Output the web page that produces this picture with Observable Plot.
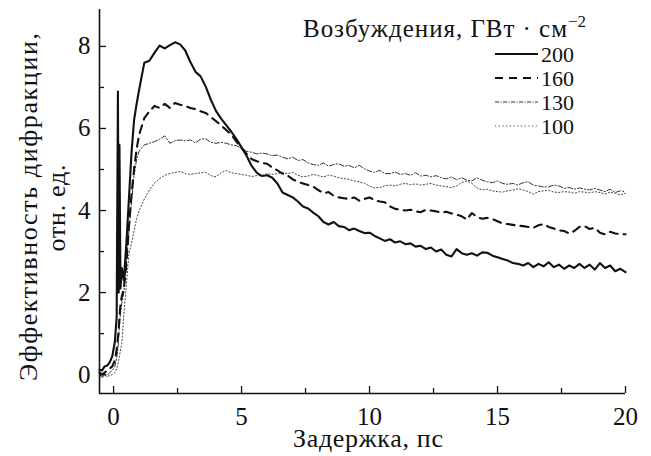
<!DOCTYPE html>
<html><head><meta charset="utf-8">
<script src="https://cdn.jsdelivr.net/npm/d3@7"></script>
<script src="https://cdn.jsdelivr.net/npm/@observablehq/plot@0.6"></script>
<style>body{margin:0;background:#fff}#chart svg{display:block}</style>
</head><body><div id="chart"></div>
<script>
// Delay, ps
const delay = [
  -0.55, -0.45, -0.35, -0.25, -0.15, -0.05, 0.05, 0.12, 0.17, 0.2,
  0.23, 0.27, 0.32, 0.4, 0.5, 0.6, 0.7, 0.8, 0.9, 1.0,
  1.2, 1.4, 1.6, 1.8, 2.0, 2.2, 2.4, 2.6, 2.8, 3.0,
  3.2, 3.4, 3.6, 3.8, 4.0, 4.2, 4.4, 4.6, 4.8, 5.0,
  5.2, 5.4, 5.6, 5.8, 6.0, 6.2, 6.4, 6.6, 6.8, 7.0,
  7.2, 7.4, 7.6, 7.8, 8.0, 8.2, 8.4, 8.6, 8.8, 9.0,
  9.2, 9.4, 9.6, 9.8, 10.0, 10.2, 10.4, 10.6, 10.8, 11.0,
  11.2, 11.4, 11.6, 11.8, 12.0, 12.2, 12.4, 12.6, 12.8, 13.0,
  13.2, 13.4, 13.6, 13.8, 14.0, 14.2, 14.4, 14.6, 14.8, 15.0,
  15.2, 15.4, 15.6, 15.8, 16.0, 16.2, 16.4, 16.6, 16.8, 17.0,
  17.2, 17.4, 17.6, 17.8, 18.0, 18.2, 18.4, 18.6, 18.8, 19.0,
  19.2, 19.4, 19.6, 19.8, 20.0
];
const eff200 = [
  0.12, 0.10, 0.20, 0.22, 0.30, 0.45, 0.80, 1.40, 6.90, 2.00,
  5.60, 2.10, 2.60, 2.30, 3.20, 4.30, 5.40, 6.20, 6.60, 6.95,
  7.60, 7.65, 7.85, 8.02, 7.95, 8.03, 8.10, 8.05, 7.90, 7.62,
  7.38, 7.27, 7.02, 6.70, 6.43, 6.24, 6.08, 5.92, 5.74, 5.54,
  5.33, 5.08, 4.92, 4.84, 4.86, 4.80, 4.66, 4.44, 4.38, 4.32,
  4.22, 4.10, 4.05, 3.95, 3.86, 3.72, 3.66, 3.72, 3.62, 3.60,
  3.52, 3.56, 3.50, 3.45, 3.46, 3.38, 3.32, 3.26, 3.30, 3.22,
  3.25, 3.18, 3.20, 3.12, 3.14, 3.06, 3.10, 3.00, 3.05, 2.92,
  2.88, 3.06, 2.96, 2.92, 2.96, 2.90, 2.98, 2.97, 2.90, 2.86,
  2.82, 2.78, 2.72, 2.70, 2.66, 2.72, 2.62, 2.70, 2.64, 2.74,
  2.62, 2.68, 2.58, 2.66, 2.60, 2.70, 2.60, 2.68, 2.56, 2.72,
  2.60, 2.66, 2.52, 2.58, 2.50
];
const eff160 = [
  0.05, 0.00, 0.05, 0.10, 0.15, 0.20, 0.35, 0.60, 0.90, 1.10,
  1.40, 1.70, 1.90, 2.10, 2.70, 3.60, 4.40, 5.00, 5.50, 5.85,
  6.25, 6.42, 6.55, 6.50, 6.60, 6.50, 6.62, 6.58, 6.55, 6.50,
  6.47, 6.42, 6.38, 6.28, 6.18, 6.08, 5.96, 5.85, 5.68, 5.52,
  5.38, 5.25, 5.20, 5.16, 5.14, 5.05, 4.98, 4.90, 4.85, 4.76,
  4.70, 4.66, 4.62, 4.58, 4.50, 4.42, 4.45, 4.36, 4.32, 4.30,
  4.28, 4.32, 4.24, 4.28, 4.32, 4.25, 4.22, 4.20, 4.10, 4.04,
  4.02, 4.00, 4.02, 3.98, 3.96, 4.02, 4.00, 3.98, 3.95, 3.97,
  3.93, 3.90, 3.86, 3.78, 3.94, 3.84, 3.80, 3.82, 3.79, 3.74,
  3.68, 3.67, 3.65, 3.63, 3.62, 3.60, 3.58, 3.64, 3.67, 3.60,
  3.56, 3.52, 3.50, 3.44, 3.50, 3.60, 3.62, 3.55, 3.58, 3.46,
  3.42, 3.48, 3.44, 3.43, 3.42
];
const eff130 = [
  0.00, -0.05, 0.00, -0.02, 0.05, 0.10, 0.20, 0.40, 0.65, 0.90,
  1.20, 1.50, 1.75, 2.00, 2.70, 3.50, 4.20, 4.85, 5.25, 5.45,
  5.60, 5.64, 5.68, 5.74, 5.82, 5.64, 5.70, 5.72, 5.70, 5.72,
  5.65, 5.74, 5.75, 5.66, 5.64, 5.66, 5.64, 5.60, 5.58, 5.52,
  5.44, 5.42, 5.38, 5.40, 5.38, 5.34, 5.35, 5.30, 5.26, 5.30,
  5.22, 5.24, 5.16, 5.12, 5.10, 5.16, 5.08, 5.12, 5.14, 5.08,
  5.10, 5.04, 5.10, 5.02, 4.96, 4.93, 4.98, 4.90, 4.90, 4.94,
  4.88, 4.90, 4.86, 4.92, 4.84, 4.86, 4.82, 4.85, 4.80, 4.77,
  4.82, 4.75, 4.80, 4.74, 4.72, 4.80, 4.74, 4.70, 4.68, 4.72,
  4.66, 4.64, 4.66, 4.62, 4.68, 4.70, 4.62, 4.60, 4.57, 4.58,
  4.62, 4.60, 4.54, 4.56, 4.52, 4.55, 4.52, 4.50, 4.54, 4.50,
  4.46, 4.52, 4.44, 4.48, 4.46
];
const eff100 = [
  -0.05, -0.08, -0.02, -0.05, -0.02, 0.00, 0.05, 0.15, 0.25, 0.35,
  0.45, 0.60, 0.75, 1.45, 2.20, 2.95, 3.20, 3.50, 3.80, 4.00,
  4.28, 4.50, 4.67, 4.78, 4.86, 4.90, 4.93, 4.95, 4.90, 4.88,
  4.90, 4.92, 4.93, 4.85, 4.82, 4.92, 4.98, 4.92, 4.90, 4.88,
  4.86, 4.83, 4.85, 4.85, 4.90, 4.88, 4.90, 4.92, 4.90, 4.93,
  4.86, 4.82, 4.84, 4.88, 4.85, 4.82, 4.86, 4.84, 4.80, 4.78,
  4.76, 4.72, 4.70, 4.66, 4.60, 4.55, 4.56, 4.60, 4.62, 4.60,
  4.64, 4.66, 4.63, 4.65, 4.62, 4.64, 4.66, 4.62, 4.60, 4.58,
  4.56, 4.60, 4.68, 4.72, 4.66, 4.55, 4.50, 4.52, 4.48, 4.46,
  4.45, 4.48, 4.50, 4.53, 4.50, 4.46, 4.40, 4.46, 4.48, 4.49,
  4.45, 4.44, 4.46, 4.45, 4.42, 4.46, 4.45, 4.43, 4.46, 4.44,
  4.40, 4.45, 4.42, 4.38, 4.42
];
const seriesNames = ["200", "160", "130", "100"];
const xTicksMajor = [0, 5, 10, 15, 20];
const xTicksMinor = [2.5, 7.5, 12.5, 17.5];
const yTicksMajor = [0, 2, 4, 6, 8];
const yTicksMinor = [1, 3, 5, 7];
const xDomain = [-0.55, 20];
const yDomain = [-0.46, 8.9];
const xLabel = "Задержка, пс";
const yLabelLines = ["Эффективность дифракции,", "отн. ед."];
const legendTitle = "Возбуждения, ГВт · см";
const legendSup = "−2";

const FONT = "'Liberation Serif', 'DejaVu Serif', 'Times New Roman', serif";
const W = 651, H = 456;
const mL = 99, mR = 26, mT = 9, mB = 63;
const fW = W - mL - mR, fH = H - mT - mB;

const styles = {
  "200": {stroke: "#111", strokeWidth: 2.1, dash: null},
  "160": {stroke: "#111", strokeWidth: 2.1, dash: "8,6"},
  "130": {stroke: "#333", strokeWidth: 1, dash: "5,2,1.2,2"},
  "100": {stroke: "#444", strokeWidth: 1, dash: "1.2,2.2"}
};
const valuesBySeries = {"200": eff200, "160": eff160, "130": eff130, "100": eff100};
const rows = s => delay.map((t, i) => ({t, v: valuesBySeries[s][i]}));

const lineMarks = seriesNames.slice().reverse().map(s =>
  Plot.line(rows(s), {x: "t", y: "v", stroke: styles[s].stroke, strokeWidth: styles[s].strokeWidth,
    strokeDasharray: styles[s].dash, strokeLinejoin: "round"})
);

const plot = Plot.plot({
  width: W, height: H,
  marginLeft: mL, marginRight: mR, marginTop: mT, marginBottom: mB,
  style: {fontFamily: FONT, background: "#fff", color: "#111"},
  x: {domain: xDomain},
  y: {domain: yDomain},
  marks: [
    ...lineMarks,
    Plot.ruleY([yDomain[0]], {strokeWidth: 1.6, stroke: "#111"}),
    Plot.ruleX([xDomain[0]], {strokeWidth: 1.6, stroke: "#111"}),
    Plot.tickX(xTicksMajor, {x: d => d, insetTop: fH - 7, strokeWidth: 1.3, stroke: "#111"}),
    Plot.tickX(xTicksMinor, {x: d => d, insetTop: fH - 5, strokeWidth: 1.3, stroke: "#111"}),
    Plot.tickY(yTicksMajor, {y: d => d, insetRight: fW - 7, strokeWidth: 1.3, stroke: "#111"}),
    Plot.tickY(yTicksMinor, {y: d => d, insetRight: fW - 5, strokeWidth: 1.3, stroke: "#111"}),
    Plot.axisX({ticks: xTicksMajor, tickSize: 0, tickPadding: 14, fontSize: 25, label: null}),
    Plot.axisY({ticks: yTicksMajor, tickSize: 0, tickPadding: 9, fontSize: 25, label: null})
  ]
});
document.getElementById("chart").appendChild(plot);

const svg = d3.select(plot);
// Axis titles
const at = svg.append("g").attr("font-family", FONT).attr("fill", "#111").attr("text-anchor", "middle");
at.append("text").attr("x", 368).attr("y", 447).attr("font-size", 26)
  .attr("textLength", 150).attr("lengthAdjust", "spacing").text(xLabel);
at.append("text").attr("transform", "translate(37,207) rotate(-90)").attr("font-size", 26)
  .attr("textLength", 348).attr("lengthAdjust", "spacing").text(yLabelLines[0]);
at.append("text").attr("transform", "translate(65,208) rotate(-90)").attr("font-size", 26)
  .attr("textLength", 87).attr("lengthAdjust", "spacing").text(yLabelLines[1]);

// Legend (inside the plot area, top right)
const lg = svg.append("g").attr("font-family", FONT).attr("fill", "#111").attr("text-anchor", "start");
lg.append("text").attr("x", 303).attr("y", 37).attr("font-size", 25)
  .attr("textLength", 264).attr("lengthAdjust", "spacing").text(legendTitle);
lg.append("text").attr("x", 568).attr("y", 27).attr("font-size", 17).text(legendSup);
const legendDash = {"200": null, "160": "8,6", "130": "4,1.5,1,1.5", "100": "1.2,2.5"};
seriesNames.forEach((s, i) => {
  const y = 54 + i * 24;
  lg.append("line").attr("x1", 495).attr("x2", 538).attr("y1", y).attr("y2", y)
    .attr("stroke", styles[s].stroke).attr("stroke-width", styles[s].strokeWidth)
    .attr("stroke-dasharray", legendDash[s]);
  lg.append("text").attr("x", 541).attr("y", y).attr("dy", "0.35em").attr("font-size", 22).text(s);
});
</script>
</body></html>
